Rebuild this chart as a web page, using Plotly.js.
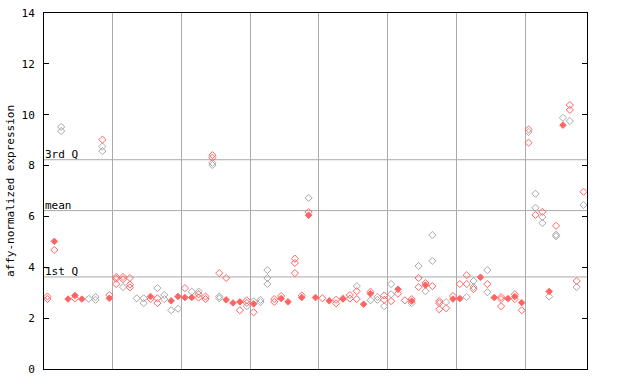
<!DOCTYPE html>
<html>
<head>
<meta charset="utf-8">
<script src="https://cdn.plot.ly/plotly-3.0.1.min.js"></script>
<style>html,body{margin:0;padding:0;background:#fff;}#chart{width:640px;height:384px;}</style>
</head>
<body>
<div id="chart"></div>
<script>
// sample index (0-based) and affy-normalized expression values
const redOpenX = [0,0,1,4,8,9,10,10,10,11,11,12,12,12,15,16,16,20,22,22,23,23,24,24,25,26,28,29,29,30,33,33,34,36,36,36,37,38,40,42,42,44,44,45,45,47,49,49,50,51,52,53,54,54,55,56,57,57,57,58,59,60,61,61,62,64,66,66,66,68,68,69,70,70,71,72,74,76,76,77,78];
const redOpenY = [2.85,2.75,4.68,2.78,9.02,2.91,3.62,3.55,3.34,3.62,3.53,3.58,3.32,3.21,2.75,2.78,2.59,3.18,2.94,2.81,2.85,2.75,8.41,8.31,3.77,3.58,2.31,2.70,2.60,2.23,2.75,2.64,2.87,4.34,4.17,3.77,2.89,6.17,2.78,2.72,2.58,2.91,2.77,3.06,2.75,3.04,2.89,2.72,2.67,2.96,2.70,2.75,3.58,3.22,3.38,3.26,2.67,2.59,2.35,2.39,2.87,3.34,3.69,3.34,3.14,3.34,2.83,2.75,2.47,2.94,2.75,2.31,9.42,8.90,6.06,6.18,5.63,10.38,10.19,3.46,6.97];
const redFillX = [1,3,4,5,9,15,18,19,20,21,26,27,28,30,34,35,37,38,39,41,43,46,47,51,53,55,59,60,63,65,67,68,69,73,75];
const redFillY = [5.02,2.75,2.89,2.75,2.78,2.85,2.68,2.85,2.81,2.81,2.72,2.60,2.64,2.56,2.77,2.64,2.81,6.05,2.81,2.68,2.75,2.55,2.96,3.14,2.67,3.30,2.75,2.77,3.61,2.81,2.77,2.85,2.61,3.05,9.59];
const greyOpenX = [2,2,6,7,7,8,8,11,13,14,14,16,17,17,18,19,21,22,24,24,25,25,29,30,31,31,32,32,32,38,43,45,47,48,48,49,50,50,53,54,55,56,56,58,61,62,62,64,64,70,71,71,72,72,73,74,74,75,76,77,78];
const greyOpenY = [9.52,9.36,2.76,2.83,2.72,8.75,8.57,3.22,2.78,2.78,2.59,3.18,2.91,2.75,2.31,2.37,3.04,3.04,8.11,8.02,2.85,2.78,2.47,2.66,2.72,2.63,3.89,3.58,3.34,6.73,2.78,3.26,2.70,2.83,2.72,2.47,3.34,2.94,2.59,4.05,3.06,5.27,4.25,2.63,2.83,3.46,3.22,3.89,3.02,9.32,6.89,6.34,5.98,5.74,2.85,5.28,5.22,9.88,9.75,3.22,6.45];
const groupBounds = [9.5,19.5,29.5,39.5,49.5,59.5,69.5];
const refLines = [8.23, 6.23, 3.62];
const refLabels = ["3rd Q", "mean", "1st Q"];
const yTicks = [0,2,4,6,8,10,12,14];

const RED = "#ff6464", GREY = "#a8a8a8";
const mono = "DejaVu Sans Mono, monospace";
function tr(x, y, color, sym, size) {
  return {x: x, y: y, type: "scatter", mode: "markers", hoverinfo: "skip",
    marker: {symbol: sym, size: size, color: color, line: {color: color, width: 1}}};
}
const data = [
  tr(greyOpenX, greyOpenY, GREY, "diamond-open", 5.5),
  tr(redOpenX, redOpenY, RED, "diamond-open", 5.5),
  tr(redFillX, redFillY, RED, "diamond", 5)
];
const shapes = refLines.map(v => ({type: "line", xref: "paper", x0: 0, x1: 1, yref: "y", y0: v, y1: v,
  line: {color: "#aaaaaa", width: 1}, layer: "below"}));
const annotations = refLines.map((v, i) => ({xref: "paper", x: 0, xanchor: "left", yref: "y", y: v, yanchor: "bottom",
  text: refLabels[i], showarrow: false, font: {family: mono, size: 11, color: "#000"}, xshift: -1, yshift: -3}));
const layout = {
  width: 640, height: 384,
  margin: {l: 44, r: 53, t: 13, b: 15},
  paper_bgcolor: "#fff", plot_bgcolor: "#fff",
  showlegend: false,
  xaxis: {range: [-0.5, 78.5], tickvals: groupBounds, showticklabels: false, ticks: "",
    showgrid: true, gridcolor: "#aaaaaa", gridwidth: 1, zeroline: false,
    showline: true, linecolor: "#000", linewidth: 1, mirror: true},
  yaxis: {range: [0, 14], tickvals: yTicks, ticks: "inside", ticklen: 5, tickcolor: "#000",
    ticklabelstandoff: 6,
    showgrid: false, zeroline: false, showline: true, linecolor: "#000", linewidth: 1, mirror: "ticks",
    tickfont: {family: mono, size: 11, color: "#000"},
    title: {text: "affy-normalized expression", font: {family: mono, size: 11, color: "#000"}, standoff: 4}},
  shapes: shapes,
  annotations: annotations
};
Plotly.newPlot("chart", data, layout, {staticPlot: true, displayModeBar: false});
</script>
</body>
</html>
